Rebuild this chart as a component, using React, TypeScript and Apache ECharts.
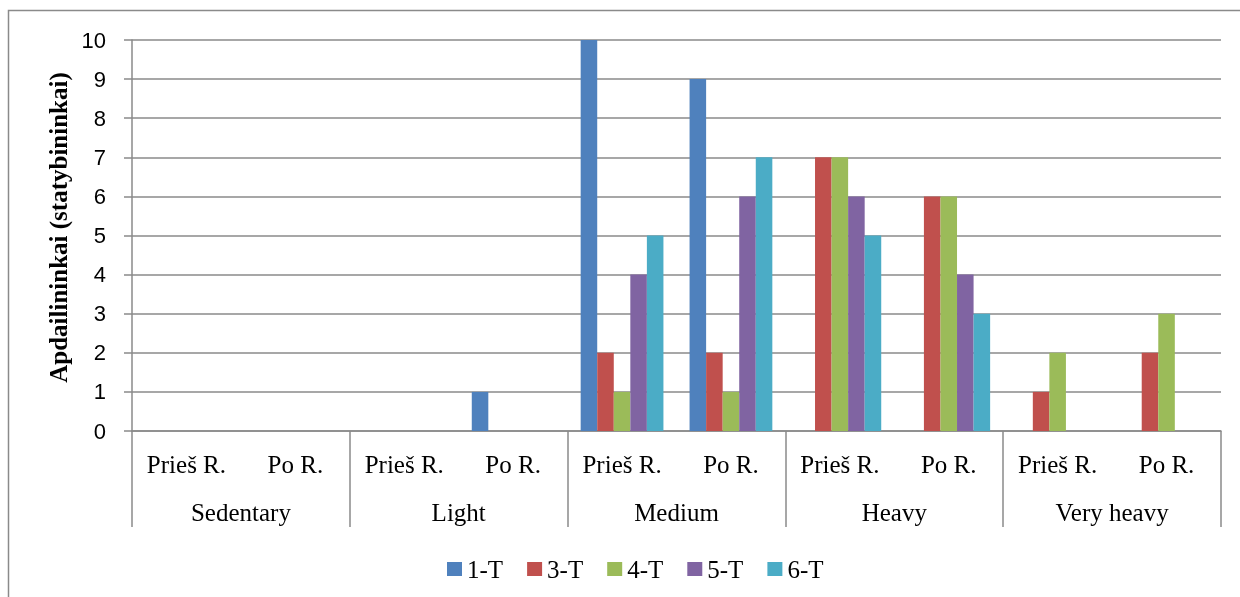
import React, { useEffect, useRef } from "react";
import * as echarts from "echarts";

const subCategories = ["Prieš R.", "Po R.", "Prieš R.", "Po R.", "Prieš R.", "Po R.", "Prieš R.", "Po R.", "Prieš R.", "Po R."];
const groups = ["Sedentary", "Light", "Medium", "Heavy", "Very heavy"];
const seriesNames = ["1-T", "3-T", "4-T", "5-T", "6-T"];
const s1T = [0, 0, 0, 1, 10, 9, 0, 0, 0, 0];
const s3T = [0, 0, 0, 0, 2, 2, 7, 6, 1, 2];
const s4T = [0, 0, 0, 0, 1, 1, 7, 6, 2, 3];
const s5T = [0, 0, 0, 0, 4, 6, 6, 4, 0, 0];
const s6T = [0, 0, 0, 0, 5, 7, 5, 3, 0, 0];
const colors = ["#4F81BD", "#C0504D", "#9BBB59", "#8064A2", "#4BACC6"];
const yTicks = { min: 0, max: 10, interval: 1 };

export default function App() {
  const ref = useRef<HTMLDivElement>(null);
  useEffect(() => {
    const chart = echarts.init(ref.current!, null, { renderer: "svg" });
    const values = [s1T, s3T, s4T, s5T, s6T];
    const serif = "'Liberation Serif', 'Times New Roman', serif";
    chart.setOption({
      animation: false,
      color: colors,
      graphic: [
        {
          type: "rect",
          shape: { x: 8.5, y: 10.5, width: 1250, height: 620 },
          style: { fill: "none", stroke: "#8a8a8a", lineWidth: 1.5 },
          silent: true,
        },
      ],
      grid: { left: 132, right: 19, top: 40, bottom: 166, containLabel: false },
      legend: {
        left: 442,
        top: 551,
        itemWidth: 15,
        itemHeight: 14,
        itemGap: 24,
        icon: "rect",
        textStyle: { fontFamily: serif, fontSize: 25, lineHeight: 26, color: "#000" },
        data: seriesNames,
      },
      xAxis: [
        {
          type: "category",
          data: subCategories,
          position: "bottom",
          axisLine: { show: true, lineStyle: { color: "#8a8a8a", width: 1.5 } },
          axisTick: { show: false },
          axisLabel: { fontFamily: serif, fontSize: 25, color: "#000", margin: 21, interval: 0 },
        },
        {
          type: "category",
          data: groups,
          position: "bottom",
          boundaryGap: true,
          axisLine: { show: false },
          axisTick: { show: true, length: 96, lineStyle: { color: "#8a8a8a", width: 1.5 } },
          axisLabel: { fontFamily: serif, fontSize: 25, color: "#000", margin: 69, interval: 0 },
        },
      ],
      yAxis: {
        type: "value",
        min: yTicks.min,
        max: yTicks.max,
        interval: yTicks.interval,
        name: "Apdailininkai (statybininkai)",
        nameLocation: "middle",
        nameRotate: 90,
        nameGap: 61,
        nameTextStyle: { fontFamily: serif, fontSize: 25, fontWeight: "bold", color: "#000", padding: [0, 0, 0, 16] },
        axisLine: { show: true, lineStyle: { color: "#8a8a8a", width: 1.5 } },
        axisTick: { show: true, length: 8, lineStyle: { color: "#8a8a8a", width: 1.5 } },
        splitLine: { show: true, lineStyle: { color: "#8a8a8a", width: 1.5 } },
        axisLabel: { fontFamily: "'Liberation Sans', Arial, sans-serif", fontSize: 22, color: "#000", margin: 26 },
      },
      series: seriesNames.map((n, i) => ({
        name: n,
        type: "bar",
        xAxisIndex: 0,
        data: values[i],
        barGap: "0%",
        barCategoryGap: "24%",
        itemStyle: { color: colors[i] },
      })),
    });
    return () => chart.dispose();
  }, []);
  return <div ref={ref} style={{ position: "fixed", left: 0, top: 0, width: 1240, height: 597 }} />;
}
